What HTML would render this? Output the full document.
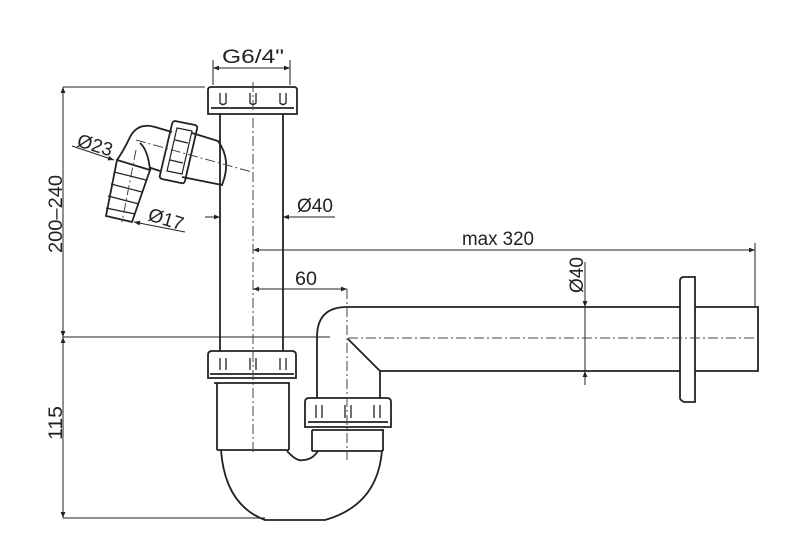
<!DOCTYPE html>
<html><head><meta charset="utf-8"><style>
html,body{margin:0;padding:0;background:#fff;}
svg{display:block;}
text{font-family:"Liberation Sans",sans-serif;fill:#222;}
</style></head><body>
<svg width="800" height="546" viewBox="0 0 800 546" xmlns="http://www.w3.org/2000/svg">
<defs>
<marker id="a" viewBox="0 0 10 10" refX="10" refY="5" markerWidth="8" markerHeight="6" orient="auto-start-reverse"><path d="M0,1 L10,5 L0,9 z" fill="#222"/></marker>
</defs>
<g fill="none" stroke="#222" stroke-width="1.8">
<!-- top nut -->
<path d="M208,114 L208,90 Q208,87 211,87 L294,87 Q297,87 297,90 L297,114 Z"/>
<path d="M211,108 L294,108"/>
<path d="M220,93 L220,103 Q223,106 226,103 L226,93 M250,93 L250,103 Q253,106 256,103 L256,93 M280,93 L280,103 Q283,106 286,103 L286,93" stroke-width="1.3"/>
<!-- vertical pipe -->
<path d="M220,114 L220,351 M283,114 L283,351"/>
<!-- lower left nut -->
<path d="M208,378 L208,355 Q208,351 212,351 L292,351 Q296,351 296,355 L296,378 Z"/>
<path d="M210,374 L294,374 M214,383 L290,383"/>
<path d="M220,358 L220,370 M226,358 L226,370 M250,358 L250,370 M256,358 L256,370 M280,358 L280,370 M286,358 L286,370" stroke-width="1.3"/>
<path d="M217,383 L217,450 M289,383 L289,450 M217,450 L289,450"/>
<!-- U bend -->
<path d="M221,450 Q225,505 265,520 L325,520 Q378,505 382,450"/>
<path d="M287,451 Q297,462 303,460 Q312,460 318,451"/>
<!-- right nut -->
<path d="M305,427 L305,402 Q305,398 309,398 L387,398 Q391,398 391,402 L391,427 Z"/>
<path d="M308,422 L388,422 M312,430 L384,430"/>
<path d="M316,405 L316,418 M322,405 L322,418 M345,405 L345,418 M351,405 L351,418 M374,405 L374,418 M380,405 L380,418" stroke-width="1.3"/>
<path d="M312,430 L312,451 M383,430 L383,451 M312,451 L383,451"/>
<!-- riser and horizontal -->
<path d="M317,398 L317,337 Q317,307 347,307 L680,307"/>
<path d="M380,398 L380,371 L348,339 M380,371 L680,371"/>
<path d="M695,307 L758,307 L758,371 L695,371"/>
<path d="M680,281 Q680,277 684,277 L695,277 L695,402 L684,402 Q680,400 680,398 Z"/>
<!-- side branch -->
<path d="M192,133 L218,141 Q232,160 222,185 L182,177"/>
<path d="M175,121 L195,125 Q198,126 197,129 L185,181 Q184,184 181,183 L162,179 Q159,178 160,175 L172,124 Q173,121 175,121 Z"/>
<path d="M177,128 L192,131 L182,174 L167,171 Z" stroke-width="1.2"/>
<path d="M175,140 L188,143 M170,160 L183,163" stroke-width="1.2"/>
<path d="M172,132 L155,127 Q138,122 130,137 Q124,150 117,160"/>
<path d="M160,171 L151,168 L150,170 Q148,150 140,143"/>
<path d="M117,160 L150,170 L132,222 L106,216 Z"/>
<path d="M114,172 L146,180 M111,184 L142,192 M108,196 L139,204 M106,208 L135,214" stroke-width="1.3"/>
</g>
<!-- dimension lines -->
<g stroke="#222" stroke-width="1" fill="none">
<path d="M213,60 L213,85 M290,60 L290,85"/>
<path d="M213,68 L290,68" marker-start="url(#a)" marker-end="url(#a)"/>
<path d="M63,87 L205,87 M63,337 L330,337 M63,518 L265,518"/>
<path d="M63,87 L63,337" marker-start="url(#a)" marker-end="url(#a)"/>
<path d="M63,337 L63,518" marker-start="url(#a)" marker-end="url(#a)"/>
<path d="M205,217 L220,217" marker-end="url(#a)"/>
<path d="M335,217 L283,217" marker-end="url(#a)"/>
<path d="M253,250 L755,250" marker-start="url(#a)" marker-end="url(#a)"/>
<path d="M755,243 L755,307"/>
<path d="M253,289 L347,289" marker-start="url(#a)" marker-end="url(#a)"/>
<path d="M585,262 L585,307" marker-end="url(#a)"/>
<path d="M585,385 L585,371" marker-end="url(#a)"/>
<path d="M585,307 L585,371"/>
<path d="M72,146 L114,160" marker-end="url(#a)"/>
<path d="M185,232 L134,222" marker-end="url(#a)"/>
</g>
<g stroke="#444" stroke-width="1" fill="none" stroke-dasharray="10,3,2,3">
<path d="M253,82 L253,455"/>
<path d="M347,289 L347,460"/>
<path d="M348,338 L762,338"/>
<path d="M136,140 L252,172"/>
<path d="M136,150 L122,222"/>
</g>
<g font-size="19">
<text x="222" y="63" textLength="62" lengthAdjust="spacingAndGlyphs">G6/4"</text>
<text x="297" y="212" textLength="36" lengthAdjust="spacingAndGlyphs">Ø40</text>
<text x="462" y="245" textLength="72" lengthAdjust="spacingAndGlyphs">max 320</text>
<text x="295" y="285" textLength="22" lengthAdjust="spacingAndGlyphs">60</text>
<text transform="translate(583,293) rotate(-90)" textLength="36" lengthAdjust="spacingAndGlyphs">Ø40</text>
<text transform="translate(62,253) rotate(-90)" textLength="78" lengthAdjust="spacingAndGlyphs">200–240</text>
<text transform="translate(62,440) rotate(-90)" textLength="34" lengthAdjust="spacingAndGlyphs">115</text>
<text transform="translate(76,146) rotate(17)" textLength="36" lengthAdjust="spacingAndGlyphs">Ø23</text>
<text transform="translate(147,220) rotate(17)" textLength="36" lengthAdjust="spacingAndGlyphs">Ø17</text>
</g>
</svg>
</body></html>
